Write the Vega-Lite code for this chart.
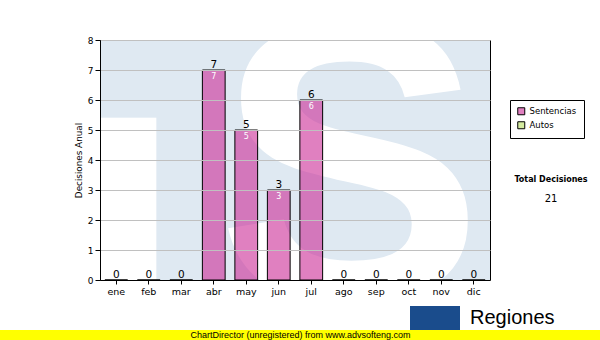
{
  "$schema": "https://vega.github.io/schema/vega-lite/v6.json",
  "width": 390,
  "height": 240,
  "autosize": {"type": "none"},
  "padding": {"left": 100, "top": 40, "right": 110, "bottom": 60},
  "background": "white",
  "config": {
    "font": "DejaVu Sans",
    "view": {"fill": "#dfe9f2", "stroke": "black", "strokeWidth": 1}
  },
  "title": {
    "text": "Total Decisiones",
    "subtitle": "21",
    "anchor": "start",
    "frame": "group",
    "align": "center",
    "dx": 451,
    "dy": 168,
    "offset": 0,
    "font": "DejaVu Sans",
    "fontSize": 8,
    "fontWeight": "bold",
    "color": "black",
    "subtitleFont": "DejaVu Sans",
    "subtitleFontSize": 10,
    "subtitleColor": "black",
    "subtitlePadding": 10
  },
  "data": {
    "values": [
      {"mes": "ene", "serie": "Sentencias", "v": 0},
      {"mes": "feb", "serie": "Sentencias", "v": 0},
      {"mes": "mar", "serie": "Sentencias", "v": 0},
      {"mes": "abr", "serie": "Sentencias", "v": 7},
      {"mes": "may", "serie": "Sentencias", "v": 5},
      {"mes": "jun", "serie": "Sentencias", "v": 3},
      {"mes": "jul", "serie": "Sentencias", "v": 6},
      {"mes": "ago", "serie": "Sentencias", "v": 0},
      {"mes": "sep", "serie": "Sentencias", "v": 0},
      {"mes": "oct", "serie": "Sentencias", "v": 0},
      {"mes": "nov", "serie": "Sentencias", "v": 0},
      {"mes": "dic", "serie": "Sentencias", "v": 0}
    ]
  },
  "resolve": {"axis": {"x": "independent", "y": "independent"}},
  "layer": [
    {
      "data": {"values": [{"glyph": "S"}]},
      "mark": {"type": "text", "font": "Liberation Sans", "fontWeight": "bold", "fontSize": 400, "fill": "white", "align": "center", "baseline": "alphabetic", "dx": 55, "dy": 140, "clip": true},
      "encoding": {"text": {"field": "glyph"}}
    },
    {
      "data": {"values": [{"glyph": "█"}]},
      "mark": {"type": "text", "font": "DejaVu Sans", "fontSize": 140, "fill": "white", "align": "right", "baseline": "alphabetic", "dx": -140, "dy": 89, "clip": true},
      "encoding": {"text": {"field": "glyph"}}
    },
    {
      "mark": {"type": "bar", "fillOpacity": 0.6, "stroke": "black", "strokeWidth": 1},
      "encoding": {
        "x": {
          "field": "mes", "type": "ordinal", "sort": null,
          "scale": {"paddingInner": 0.3, "paddingOuter": 0.15},
          "axis": {
            "title": "ChartDirector (unregistered) from www.advsofteng.com",
            "titleFont": "Liberation Sans", "titleFontSize": 9, "titleFontWeight": "normal", "titleColor": "black",
            "titleX": 200, "titleY": 57, "titleBaseline": "alphabetic",
            "labelAngle": 0, "labelFontSize": 9.5, "labelColor": "black", "labelPadding": 2,
            "tickSize": 4, "tickColor": "black", "domain": true, "domainColor": "black", "zindex": 3
          }
        },
        "y": {
          "field": "v", "type": "quantitative",
          "scale": {"domain": [0, 8], "nice": false},
          "axis": {
            "title": "Decisiones Anual", "titleFontSize": 8.8, "titleFontWeight": "normal", "titleColor": "black", "titlePadding": 4,
            "values": [0, 1, 2, 3, 4, 5, 6, 7, 8], "tickCount": 20, "format": "d", "labelOverlap": false,
            "labelFontSize": 9, "labelColor": "black", "labelPadding": 2,
            "tickSize": 5, "tickColor": "black", "domain": true, "domainColor": "black",
            "grid": true, "gridColor": "#c0c0c0", "zindex": 1
          }
        },
        "fill": {
          "field": "serie", "type": "nominal",
          "scale": {"domain": ["Sentencias", "Autos"], "range": ["#cb2b96", "#b7de61"]},
          "legend": {
            "title": null, "orient": "none", "legendX": 410, "legendY": 60,
            "strokeColor": "black", "fillColor": "white", "padding": 7,
            "symbolType": "square", "symbolSize": 49, "symbolStrokeColor": "black", "symbolStrokeWidth": 1,
            "labelFontSize": 8.5, "labelFont": "DejaVu Sans", "labelColor": "black", "labelOffset": 4, "rowPadding": 2,
            "zindex": 1,
            "encode": {"symbols": {"update": {"fillOpacity": {"value": 0.6}}}}
          }
        }
      }
    },
    {
      "mark": {"type": "text", "baseline": "alphabetic", "dy": -2, "fontSize": 10.5, "fill": "black", "strokeWidth": 0},
      "encoding": {
        "x": {"field": "mes", "type": "ordinal", "sort": null, "axis": null},
        "y": {"field": "v", "type": "quantitative", "axis": null},
        "text": {"field": "v"},
        "stroke": {
          "field": "v", "type": "quantitative",
          "scale": {"range": ["#ffff00", "#ffff00"]},
          "legend": {
            "title": null, "orient": "none", "direction": "horizontal", "legendX": -100, "legendY": 290,
            "gradientLength": 600, "gradientThickness": 10, "labels": false, "padding": 0, "gradientStrokeWidth": 0, "zindex": 2
          }
        }
      }
    },
    {
      "transform": [{"filter": "datum.v > 0"}],
      "mark": {"type": "text", "baseline": "top", "dy": 3, "fontSize": 8, "fill": "white"},
      "encoding": {
        "x": {"field": "mes", "type": "ordinal", "sort": null, "axis": null},
        "y": {"field": "v", "type": "quantitative", "axis": null},
        "text": {"field": "v"}
      }
    },
    {
      "mark": {"type": "rule", "strokeOpacity": 0},
      "encoding": {
        "y": {"field": "v", "type": "quantitative", "axis": null},
        "color": {
          "field": "v", "type": "quantitative",
          "scale": {"range": ["#1a4c8c", "#1a4c8c"]},
          "legend": {
            "title": "Regiones", "titleOrient": "right", "orient": "none", "direction": "horizontal",
            "legendX": 310, "legendY": 266, "gradientLength": 50, "gradientThickness": 24, "labels": false,
            "padding": 0, "gradientStrokeWidth": 0,
            "titleFont": "Liberation Sans", "titleFontSize": 20, "titleFontWeight": "normal", "titleColor": "black",
            "titlePadding": 10, "titleBaseline": "middle", "zindex": 1
          }
        }
      }
    }
  ]
}
